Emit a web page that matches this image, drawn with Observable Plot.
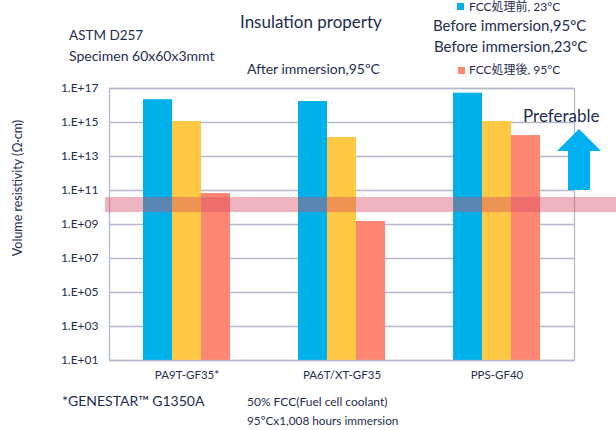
<!DOCTYPE html>
<html><head><meta charset="utf-8">
<script src="https://cdn.jsdelivr.net/npm/d3@7"></script>
<script src="https://cdn.jsdelivr.net/npm/@observablehq/plot@0.6"></script>
<style>
body{margin:0;background:#fff;}
#wrap{position:relative;width:616px;height:430px;overflow:hidden;font-family:Lato,"Noto Sans CJK JP",sans-serif;color:#1f2d4f;}
#wrap svg{position:absolute;left:0;top:0;}
.t{position:absolute;white-space:nowrap;line-height:1;}
.sq{position:absolute;width:7px;height:7px;}
#ylab{position:absolute;white-space:nowrap;line-height:1;font-size:12.5px;left:18px;top:188px;transform:translate(-50%,-50%) rotate(-90deg);}
</style></head><body><div id="wrap"></div>
<script>
// ---- data ----
const categories = ["PA9T-GF35*", "PA6T/XT-GF35", "PPS-GF40"];
const seriesKeys = ["FCC処理前, 23°C", "Before immersion,95ºC", "FCC処理後, 95°C"];
const seriesColors = ["#00b0e8", "#ffc845", "#ff8672"];
const before23 = [2.2e16, 1.7e16, 5.3e16];
const before95 = [1.15e15, 1.3e14, 1.15e15];
const after95 = [6.6e10, 1.5e9, 1.7e14];
const tickValues = [1e1, 1e3, 1e5, 1e7, 1e9, 1e11, 1e13, 1e15, 1e17];
const targetBand = [5e9, 3.9e10];
const yDomain = [1e1, 1e17];
const yLabel = "Volume resistivity (Ω·cm)";

const seriesValues = [before23, before95, after95];
const data = categories.flatMap((c, i) => seriesKeys.map((s, j) => ({category: c, series: s, value: seriesValues[j][i]})));
const fmt = v => "1.E+" + String(Math.round(Math.log10(v))).padStart(2, "0");
const gridColor = "#b4b8c8";
const W = 616, H = 430, mL = 108, mR = 42, mT = 88, mB = 70;

const plot = Plot.plot({
  width: W, height: H,
  marginLeft: mL, marginRight: mR, marginTop: mT, marginBottom: mB,
  style: {fontFamily: 'Lato, "Noto Sans CJK JP", sans-serif', fontSize: "12px", color: "#1f2d4f", background: "transparent"},
  fx: {domain: categories, padding: 0, label: null, axis: null},
  x: {domain: seriesKeys, paddingInner: 0, paddingOuter: 1.09, axis: null},
  y: {type: "log", domain: yDomain},
  color: {domain: seriesKeys, range: seriesColors},
  marks: [
    Plot.gridY(tickValues, {stroke: gridColor, strokeOpacity: 1, strokeWidth: 1.3}),
    Plot.barY(data, {fx: "category", x: "series", y1: () => yDomain[0], y2: "value", fill: "series"}),
    Plot.frame({stroke: gridColor, strokeWidth: 1.3, facet: "super"}),
    Plot.axisY(tickValues, {tickSize: 0, tickPadding: 11, tickFormat: fmt, fontSize: 12, label: null}),
    Plot.axisFx({anchor: "bottom", tickSize: 0, tickPadding: 10, label: null, fontSize: 11.5})
  ]
});
const wrap = document.getElementById("wrap");
wrap.appendChild(plot);

// target band, positioned through the plot's y scale
const ys = plot.scale("y");
const yTop = ys.apply(targetBand[1]), yBot = ys.apply(targetBand[0]);
const svg = d3.select(plot);
svg.append("rect")
  .attr("x", mL - 3).attr("width", W - mL + 3)
  .attr("y", yTop).attr("height", yBot - yTop)
  .attr("fill", "#d64c66").attr("fill-opacity", 0.42);

// up arrow annotation
svg.append("path")
  .attr("d", "M568,190 L590,190 L590,151 L601,151 L579,129 L557,151 L568,151 Z")
  .attr("fill", "#00b0f0");

const yl = document.createElement("div");
yl.id = "ylab"; yl.textContent = yLabel;
wrap.appendChild(yl);

const texts = [
  ["Insulation property", 240, 13, 17],
  ["ASTM D257", 69, 29, 13.5],
  ["Specimen 60x60x3mmt", 69, 49, 14],
  ["After immersion,95ºC", 247, 62, 14],
  [seriesKeys[0], 469, 1, 12],
  ["Before immersion,95ºC", 433, 18, 15],
  ["Before immersion,23ºC", 434, 39, 15],
  [seriesKeys[2], 469, 64, 12],
  ["Preferable", 523, 107, 17],
  ["*GENESTAR™ G1350A", 62, 394, 14],
  ["50% FCC(Fuel cell coolant)", 247, 396, 12],
  ["95ºCx1,008 hours immersion", 247, 415, 11.8]
];
for (const [s, x, y, fs] of texts) {
  const d = document.createElement("div");
  d.className = "t"; d.textContent = s;
  d.style.left = x + "px"; d.style.top = y + "px"; d.style.fontSize = fs + "px";
  wrap.appendChild(d);
}
const squares = [[seriesColors[0], 457, 3], [seriesColors[2], 458, 67]];
for (const [c, x, y] of squares) {
  const d = document.createElement("div");
  d.className = "sq"; d.style.background = c; d.style.left = x + "px"; d.style.top = y + "px";
  wrap.appendChild(d);
}
</script></body></html>
